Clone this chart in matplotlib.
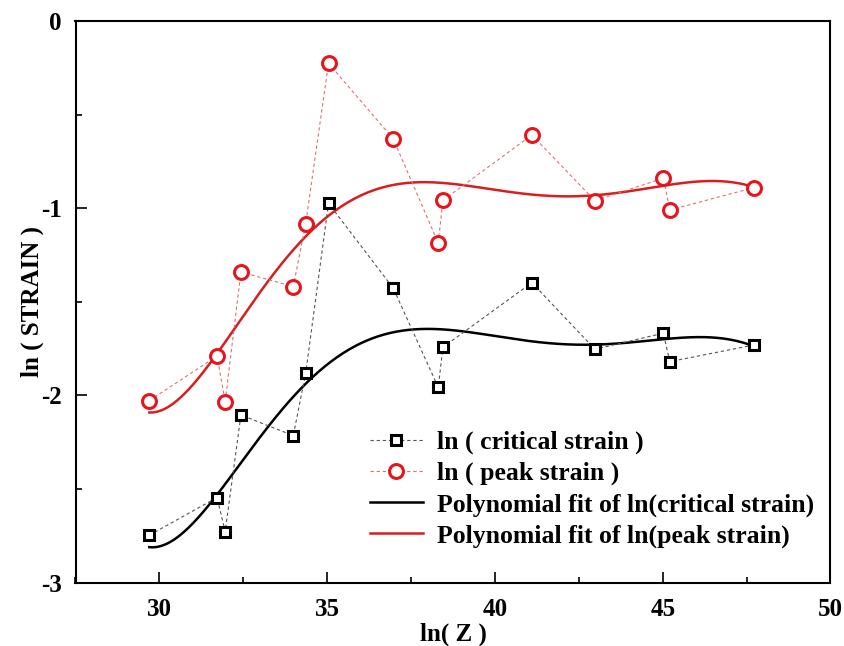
import numpy as np
import matplotlib
matplotlib.use("Agg")
import matplotlib.pyplot as plt
from matplotlib.ticker import MultipleLocator, FuncFormatter
from numpy.polynomial import Polynomial

plt.rcParams['font.family'] = ['Liberation Serif', 'DejaVu Serif']
plt.rcParams['font.weight'] = 'bold'
plt.rcParams['axes.unicode_minus'] = False

ln_z = [29.70, 31.72, 31.96, 32.43, 33.99, 34.36, 35.04, 36.97, 38.31, 38.45,
        41.10, 42.98, 45.02, 45.21, 47.72]
ln_critical = [-2.747, -2.546, -2.728, -2.105, -2.215, -1.882, -0.974, -1.428,
               -1.957, -1.743, -1.398, -1.754, -1.668, -1.820, -1.731]
ln_peak = [-2.028, -1.790, -2.034, -1.341, -1.419, -1.083, -0.226, -0.630,
           -1.186, -0.958, -0.609, -0.960, -0.840, -1.010, -0.890]

# readings of the published polynomial-fit curves
fit_crit_x = [29.70, 31.70, 33.20, 34.35, 35.98, 38.26, 40.00, 41.00, 42.98,
              44.00, 45.00, 46.40, 47.72]
fit_crit_y = [-2.81, -2.54, -2.18, -1.92, -1.74, -1.65, -1.677, -1.70, -1.74,
              -1.718, -1.70, -1.686, -1.74]
fit_peak_x = [29.70, 31.73, 32.30, 33.30, 34.79, 35.78, 36.77, 37.96, 39.55,
              41.00, 42.93, 44.00, 45.00, 46.41, 47.72]
fit_peak_y = [-2.09, -1.79, -1.61, -1.383, -1.063, -0.956, -0.894, -0.867,
              -0.885, -0.912, -0.942, -0.912, -0.881, -0.849, -0.89]
fit_degree = 6

x_ticks = [30, 35, 40, 45, 50]
y_ticks = [0, -1, -2, -3]

fig = plt.figure(figsize=(8.45, 6.46), dpi=100)
ax = fig.add_axes([75.5 / 845, 1 - 582.5 / 646, 755 / 845, 561.5 / 646])

xs = np.linspace(min(ln_z), max(ln_z), 400)
pc = Polynomial.fit(fit_crit_x, fit_crit_y, fit_degree)
pp = Polynomial.fit(fit_peak_x, fit_peak_y, fit_degree)

ax.plot(ln_z, ln_critical, linestyle=(0, (3, 2.5)), color='#555555', lw=0.8,
        marker='s', markersize=7.5, markerfacecolor='white',
        markeredgecolor='black', markeredgewidth=2.2,
        label='ln ( critical strain )', zorder=3)
ax.plot(ln_z, ln_peak, linestyle=(0, (3, 2.5)), color='#e07070', lw=0.8,
        marker='o', markersize=10, markerfacecolor='white',
        markeredgecolor='#e8141c', markeredgewidth=2.2,
        label='ln ( peak strain )', zorder=3)
ax.plot(xs, pc(xs), color='black', lw=1.8,
        label='Polynomial fit of ln(critical strain)', zorder=2)
ax.plot(xs, pp(xs), color='#d81e1e', lw=1.8,
        label='Polynomial fit of ln(peak strain)', zorder=2)

ax.set_xlim(27.5, 50)
ax.set_ylim(-3, 0)
ax.set_xticks(x_ticks)
ax.set_yticks(y_ticks)
ax.xaxis.set_minor_locator(MultipleLocator(2.5))
ax.yaxis.set_minor_locator(MultipleLocator(0.5))
ax.yaxis.set_major_formatter(FuncFormatter(lambda v, p: '%d' % v))
ax.tick_params(which='both', direction='in', top=False, right=False, width=1.2)
ax.tick_params(which='major', length=8, labelsize=18, pad=11)
ax.tick_params(which='minor', length=4.5)
ax.tick_params(axis='y', pad=10)
for lab in ax.get_xticklabels() + ax.get_yticklabels():
    lab.set_fontweight('bold')
for s in ax.spines.values():
    s.set_linewidth(1.5)

ax.set_xlabel('ln( Z )', fontsize=18, fontweight='bold', labelpad=1)
ax.set_ylabel('ln ( STRAIN )', fontsize=18, fontweight='bold', labelpad=-2)

ax.legend(loc='lower left', bbox_to_anchor=(0.39, 0.062), frameon=False,
          prop={'family': 'Liberation Serif', 'weight': 'bold', 'size': 18.5},
          handlelength=2.05, handletextpad=0.55, labelspacing=0.3,
          borderaxespad=0, borderpad=0)

fig.savefig('out.png', dpi=100)
